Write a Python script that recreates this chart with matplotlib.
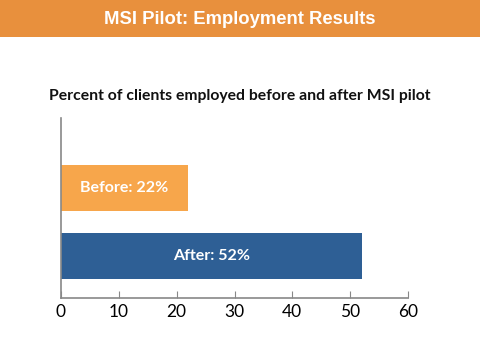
import matplotlib
matplotlib.use("Agg")
import matplotlib.pyplot as plt
from matplotlib.patches import Rectangle

categories = ["After", "Before"]
values = [52, 22]
bar_colors = ["#2E5F95", "#F7A64B"]
xticks = [0, 10, 20, 30, 40, 50, 60]

fig = plt.figure(figsize=(4.8, 3.6), dpi=100)

# orange header banner
fig.patches.append(Rectangle((0, 1 - 37 / 360), 1, 37 / 360, transform=fig.transFigure,
                             facecolor="#E8903D", edgecolor="none", zorder=0))
fig.text(0.5, 1 - 19 / 360, "MSI Pilot: Employment Results", ha="center", va="center",
         color="white", fontsize=13.3, fontweight="bold", family="Liberation Sans")

fig.text(0.5, 1 - 96 / 360, "Percent of clients employed before and after MSI pilot",
         ha="center", va="center", color="#111111", fontsize=11.3, fontweight="bold",
         family="Lato")

ax = fig.add_axes([61 / 480, 1 - 298 / 360, 347 / 480, 180 / 360])
ypos = list(range(len(categories)))
ax.barh(ypos, values, height=0.68, color=bar_colors)
for y, cat, v in zip(ypos, categories, values):
    ax.text(v / 2, y, f"{cat}: {v}%", ha="center", va="center", color="white",
            fontsize=11.5, fontweight="bold", family="Lato")

ax.set_xlim(0, 60)
ax.set_ylim(-0.62, 2.03)
ax.set_xticks(xticks)
ax.set_xticklabels([str(t) for t in xticks], family="Lato", fontsize=12.5)
ax.set_yticks([])
ax.tick_params(axis="x", direction="in", length=5, color="#888888", pad=4)
for side in ("top", "right"):
    ax.spines[side].set_visible(False)
for side in ("left", "bottom"):
    ax.spines[side].set_color("#888888")
    ax.spines[side].set_linewidth(1.2)

fig.savefig("out.png", dpi=100)
